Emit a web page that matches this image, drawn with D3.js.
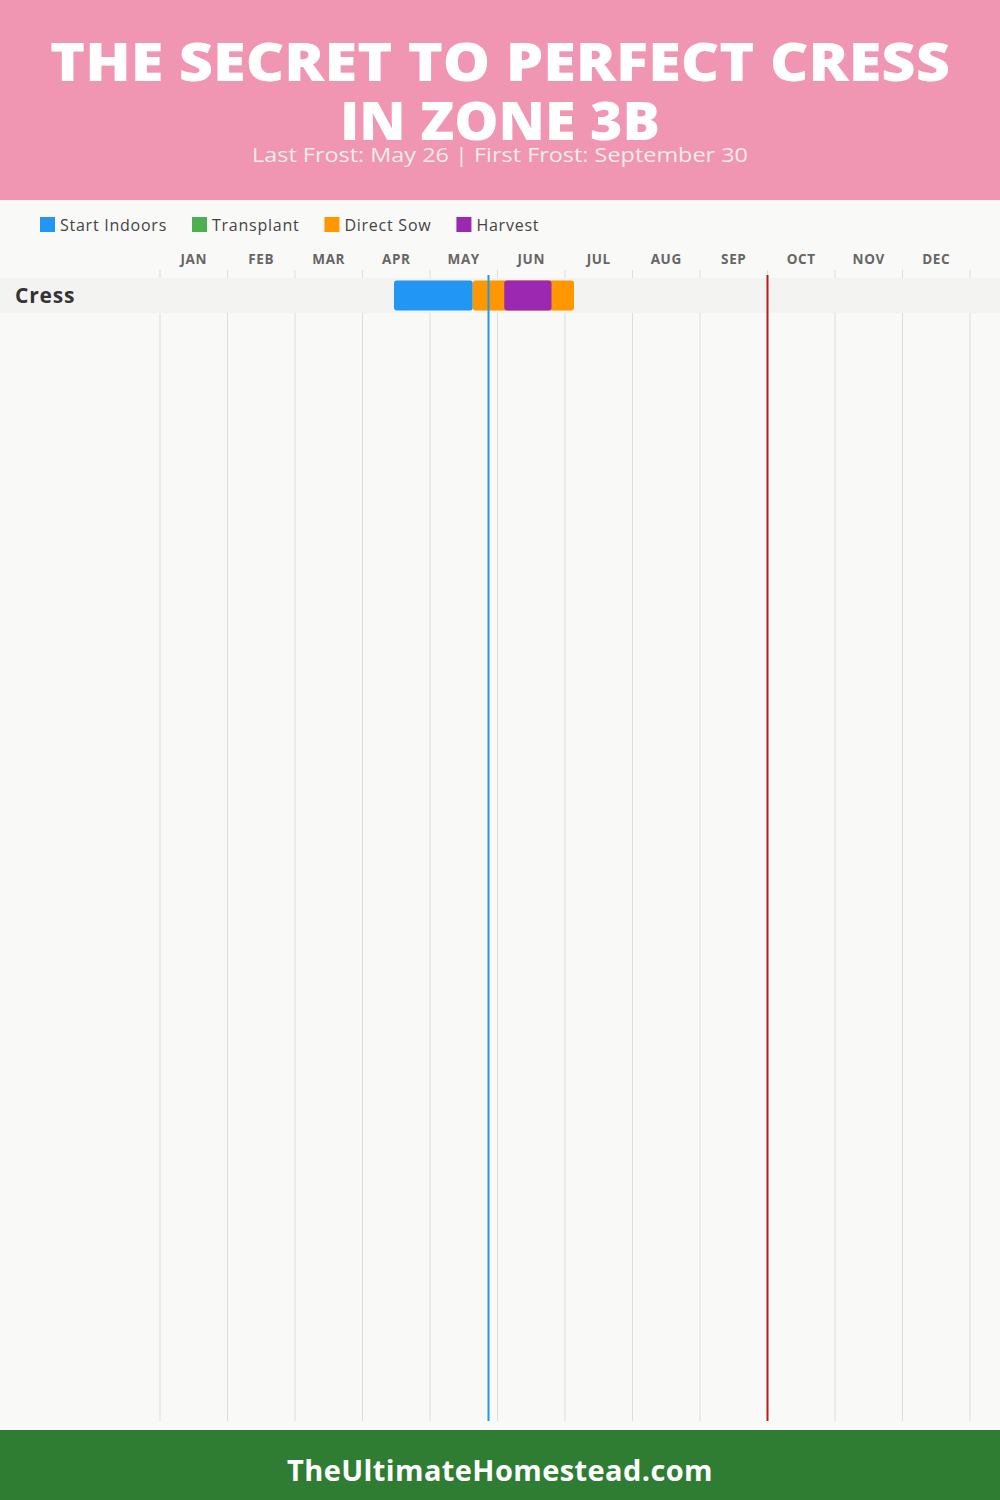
<!DOCTYPE html>
<html><head><meta charset="utf-8">
<script src="https://cdn.jsdelivr.net/npm/d3@7"></script>
<style>html,body{margin:0;padding:0;background:#f9f9f7;}svg{display:block;}</style>
</head><body>
<svg id="c" width="1000" height="1500"></svg>
<script>
const titleLines = ["THE SECRET TO PERFECT CRESS", "IN ZONE 3B"];
const subtitle = "Last Frost: May 26 | First Frost: September 30";
const footerText = "TheUltimateHomestead.com";
const months = ["JAN","FEB","MAR","APR","MAY","JUN","JUL","AUG","SEP","OCT","NOV","DEC"];
const legendNames = ["Start Indoors","Transplant","Direct Sow","Harvest"];
const legendColors = ["#2196F3","#4CAF50","#FF9800","#9C27B0"];
const crops = ["Cress"];
// tasks: [month (0-based), day] with position = month + day/30
const taskCrop = ["Cress","Cress","Cress"];
const taskType = ["Start Indoors","Direct Sow","Harvest"];
const taskStart = [[3,14],[4,19],[5,3]];
const taskEnd = [[4,19],[6,4],[5,24]];
const lastFrost = [4,26];
const firstFrost = [8,30];

const svg = d3.select("#c");
const W = 1000, H = 1500;
const font = "'Open Sans', 'Noto Sans', sans-serif";

svg.append("rect").attr("width",W).attr("height",H).attr("fill","#f9f9f7");
// header
svg.append("rect").attr("x",0).attr("y",0).attr("width",W).attr("height",200).attr("fill","#F096B3");
const titleW = [900, 320];
const titleY = [81, 140];
titleLines.forEach((t,i)=>{
  svg.append("text").attr("x",W/2).attr("y",titleY[i]).attr("text-anchor","middle")
    .attr("font-family",font).attr("font-weight",800).attr("font-size",53)
    .attr("fill","#fff").attr("textLength", titleW[i]).attr("lengthAdjust","spacingAndGlyphs").text(t);
});
svg.append("text").attr("x",W/2).attr("y",162).attr("text-anchor","middle")
  .attr("font-family",font).attr("font-size",20).attr("fill","#ececec")
  .attr("textLength",496).attr("lengthAdjust","spacingAndGlyphs").text(subtitle);

// scale
const x = d3.scaleLinear().domain([0,12]).range([160,970]);
const pos = md => md[0] + md[1]/30;
const y = d3.scaleBand().domain(crops).range([278,313]);

// legend
const lg = svg.append("g");
let lx = 40;
legendNames.forEach((n,i)=>{
  lg.append("rect").attr("x",lx).attr("y",217).attr("width",15).attr("height",15).attr("fill",legendColors[i]);
  const t = lg.append("text").attr("x",lx+20).attr("y",231).attr("font-family",font).attr("font-size",16)
    .attr("letter-spacing",0.75).attr("fill","#444").text(n);
  lx += 20 + t.node().getComputedTextLength() + 25;
});

// month labels
svg.append("g").selectAll("text").data(months).join("text")
  .attr("x",(d,i)=>x(i+0.5)).attr("y",264).attr("text-anchor","middle")
  .attr("font-family",font).attr("font-weight",700).attr("font-size",13.5).attr("letter-spacing",0.6)
  .attr("fill","#666").text(d=>d);

// grid
svg.append("g").selectAll("line").data(d3.range(13)).join("line")
  .attr("x1",d=>x(d)).attr("x2",d=>x(d)).attr("y1",270).attr("y2",1421)
  .attr("stroke","#dddddd").attr("stroke-width",1);

// rows
svg.append("g").selectAll("rect").data(crops).join("rect")
  .attr("x",0).attr("width",W).attr("y",d=>y(d)).attr("height",y.bandwidth()).attr("fill","#f3f3f2");
svg.append("g").selectAll("text").data(crops).join("text")
  .attr("x",15).attr("y",d=>y(d)+y.bandwidth()/2+7).attr("font-family",font).attr("font-weight",700)
  .attr("font-size",21).attr("letter-spacing",0.8).attr("fill","#333").text(d=>d);

// bars
const color = d3.scaleOrdinal().domain(legendNames).range(legendColors);
svg.append("g").selectAll("rect").data(taskType.map((t,i)=>i)).join("rect")
  .attr("x",i=>x(pos(taskStart[i]))).attr("width",i=>x(pos(taskEnd[i]))-x(pos(taskStart[i])))
  .attr("y",i=>y(taskCrop[i])+2.5).attr("height",y.bandwidth()-5).attr("rx",3)
  .attr("fill",i=>color(taskType[i]));

// frost lines
svg.append("line").attr("x1",x(pos(lastFrost))).attr("x2",x(pos(lastFrost))).attr("y1",275).attr("y2",1421)
  .attr("stroke","#2196F3").attr("stroke-width",2);
svg.append("line").attr("x1",x(pos(firstFrost))).attr("x2",x(pos(firstFrost))).attr("y1",275).attr("y2",1421)
  .attr("stroke","#B71C1C").attr("stroke-width",2);

// footer
svg.append("rect").attr("x",0).attr("y",1430).attr("width",W).attr("height",70).attr("fill","#2E7D32");
svg.append("text").attr("x",W/2).attr("y",1481).attr("text-anchor","middle").attr("font-family",font)
  .attr("font-weight",700).attr("font-size",29).attr("letter-spacing",0.4).attr("fill","#fff").text(footerText);
</script>
</body></html>
